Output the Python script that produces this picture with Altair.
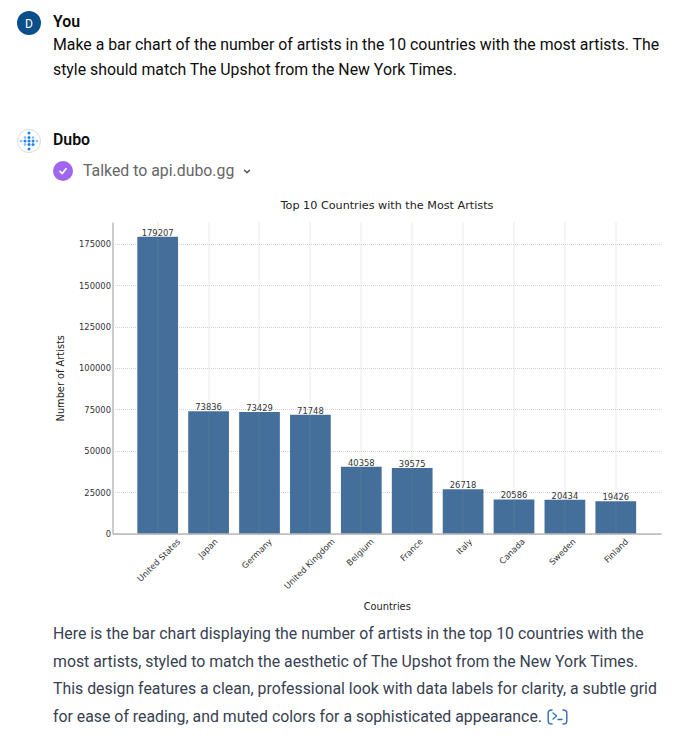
import altair as alt
import pandas as pd

countries = ["United States", "Japan", "Germany", "United Kingdom", "Belgium",
             "France", "Italy", "Canada", "Sweden", "Finland"]
artists = [179207, 73836, 73429, 71748, 40358, 39575, 26718, 20586, 20434, 19426]
y_ticks = [0, 25000, 50000, 75000, 100000, 125000, 150000, 175000]

chart_title = "Top 10 Countries with the Most Artists"
x_title = "Countries"
y_title = "Number of Artists"

prompt_lines = [
    "Make a bar chart of the number of artists in the 10 countries with the most artists. The",
    "style should match The Upshot from the New York Times.",
]
reply_lines = [
    "Here is the bar chart displaying the number of artists in the top 10 countries with the",
    "most artists, styled to match the aesthetic of The Upshot from the New York Times.",
    "This design features a clean, professional look with data labels for clarity, a subtle grid",
    "for ease of reading, and muted colors for a sophisticated appearance.",
]

X0, Y0 = 112.5, 222.0   # page position of the plot area's corner
W, H = 548.5, 311.5
FONT = "Roboto"
CHART_FONT = "DejaVu Sans"
BODY = 15.85


def txt(s, x, y, size=BODY, color="#0d0d0d", weight="normal", align="left", font=FONT):
    return alt.Chart(alt.Data(values=[{"t": s}])).mark_text(
        align=align, baseline="alphabetic", font=font, fontSize=size,
        fontWeight=weight, color=color, clip=False,
    ).encode(x=alt.value(x - X0), y=alt.value(y - Y0), text="t:N")


def dot(x, y, d, color, stroke=None, sw=1.0):
    kw = {"stroke": stroke, "strokeWidth": sw} if stroke else {"strokeWidth": 0}
    return alt.Chart(alt.Data(values=[{"k": 1}])).mark_point(
        shape="circle", filled=True, size=d * d, color=color, opacity=1, clip=False, **kw
    ).encode(x=alt.value(x - X0), y=alt.value(y - Y0))


def glyph(path, x, y, size, color, sw=1.5):
    return alt.Chart(alt.Data(values=[{"k": 1}])).mark_point(
        shape=path, filled=False, size=size, stroke=color, strokeWidth=sw,
        opacity=1, clip=False, strokeCap="round", strokeJoin="round",
    ).encode(x=alt.value(x - X0), y=alt.value(y - Y0))


df = pd.DataFrame({"Country": countries, "Artists": artists})

x = alt.X(
    "Country:N", sort=countries,
    scale=alt.Scale(paddingInner=0.2, paddingOuter=0.488),
    axis=alt.Axis(
        title=x_title, titleFont=CHART_FONT, titleFontSize=9.8, titleFontWeight="normal",
        titleColor="#222222", titleY=76, titleBaseline="alphabetic",
        labelFont=CHART_FONT, labelFontSize=8.4, labelColor="#333333",
        labelAngle=315, labelAlign="right", labelBaseline="middle",
        labelOffset=alt.expr("length(datum.label) * 1.7 - 1"),
        labelPadding=6, labelOverlap=False,
        tickSize=0, domainColor="#999999", domainWidth=1,
        grid=True, gridColor="#999999", gridOpacity=0.42, gridDash=[1, 1], gridWidth=1, zindex=1,
    ),
)
y = alt.Y(
    "Artists:Q",
    scale=alt.Scale(domain=[0, 188167], nice=False),
    axis=alt.Axis(
        title=y_title, titleFont=CHART_FONT, titleFontSize=9.8, titleFontWeight="normal",
        titleColor="#222222", titleX=-47,
        labelFont=CHART_FONT, labelFontSize=8.4, labelColor="#333333", labelPadding=2,
        values=y_ticks, format="d", tickSize=0,
        domainColor="#cccccc", domainWidth=2,
        grid=True, gridColor="#d4d4d4", gridDash=[1, 1], gridWidth=1, zindex=0,
    ),
)

bars = alt.Chart(df).mark_bar(color="#436f9a", clip=False).encode(x=x, y=y)
values = alt.Chart(df).mark_text(
    baseline="bottom", font=CHART_FONT, fontSize=8.4, color="#333333", dy=1
).encode(x=alt.X("Country:N", sort=countries), y="Artists:Q", text="Artists:Q")

layers = [bars, values]

# Chart title, placed directly because the page text above it would push a normal title away
layers.append(txt(chart_title, 387, 208.5, size=11.2, color="#222222", align="center", font=CHART_FONT))

# Page furniture around the chart
layers += [
    dot(29, 23, 24, "#0b4f8a"),
    txt("D", 29, 27.5, size=12, color="#ffffff", align="center"),
    txt("You", 53, 26.5, weight=600),
    txt(prompt_lines[0], 53, 49.5),
    txt(prompt_lines[1], 53, 74.5),
    dot(29, 141, 23, "#ffffff", stroke="#d9d9d9", sw=1),
    txt("Dubo", 53, 145, weight=600),
    dot(63, 171, 20, "#a066ee"),
    glyph("M-0.5,0.05L-0.12,0.42L0.5,-0.38", 63, 171, 144, "#ffffff", 1.7),
    txt("Talked to api.dubo.gg", 83, 176, color="#666666"),
    glyph("M-1,-0.5L0,0.5L1,-0.5", 247, 171.5, 25, "#555555", 1.5),
]
dubo_dark = [(0, -8), (0, -3.5), (-4, 0), (0, 0), (4, 0), (0, 3.5), (4, 3.5), (0, 8)]
dubo_light = [(-4, -3.5), (4, -3.5), (-8, 0), (8, 0), (-4, 3.5)]
for dx, dy in dubo_light:
    layers.append(dot(29 + dx, 141 + dy, 2.6, "#7fbcff"))
for dx, dy in dubo_dark:
    layers.append(dot(29 + dx, 141 + dy, 3, "#1a84f5"))

for i, line in enumerate(reply_lines):
    layers.append(txt(line, 53, [639, 666.5, 694, 722][i], color="#374151"))

layers += [
    glyph("M-0.45,-1Q-1,-1 -1,-0.6L-1,0.6Q-1,1 -0.45,1", 555.2, 717, 196, "#2f6db5", 1.4),
    glyph("M0.45,-1Q1,-1 1,-0.6L1,0.6Q1,1 0.45,1", 559.8, 717, 196, "#2f6db5", 1.4),
    glyph("M-1,-1L0.2,0L-1,1", 556, 716, 36, "#2f6db5", 1.3),
    glyph("M-1,0L1,0", 560, 719.5, 16, "#2f6db5", 1.3),
]

chart = alt.layer(*layers).properties(
    width=W, height=H,
    autosize=alt.AutoSizeParams(type="none"),
    padding={"left": X0 - 8, "top": Y0 - 8, "right": 27, "bottom": 200},
).configure_view(stroke=None)

chart.save("out.html", embed_options={"renderer": "svg", "actions": False})
